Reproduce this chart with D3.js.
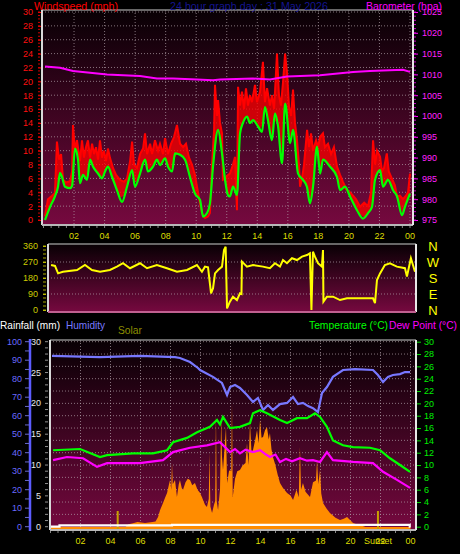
<!DOCTYPE html>
<html><head><meta charset="utf-8">
<script src="https://cdn.jsdelivr.net/npm/d3@7"></script>
<style>body{margin:0;background:#000;} svg{display:block;} text{font-family:"Liberation Sans",Arial,sans-serif;}</style>
</head><body><svg id="c" width="460" height="554"></svg>
<script>
// ---------------- DATA ----------------
const titleText = "24 hour graph day : 31 May 2026";
const hourLabels = ["02","04","06","08","10","12","14","16","18","20","22","00"];
const hourLabelValues = [2,4,6,8,10,12,14,16,18,20,22,24];
const compassLabels = ["N","W","S","E","N"];
const compassValues = [360,270,180,90,0];

const windAvgHours = [0.10,0.43,0.75,0.95,1.08,1.21,1.41,1.74,1.87,2.06,2.26,2.39,2.59,2.85,3.05,3.24,3.57,3.83,4.03,4.22,4.49,4.81,5.14,5.47,5.80,5.99,6.32,6.65,6.84,7.17,7.43,7.63,7.96,8.15,8.42,8.61,8.94,9.27,9.59,9.92,10.25,10.45,10.71,10.90,11.10,11.43,11.69,11.89,12.08,12.21,12.41,12.67,12.87,13.06,13.33,13.52,13.72,14.05,14.31,14.50,14.70,14.96,15.16,15.36,15.62,15.82,16.15,16.34,16.67,16.99,17.25,17.45,17.65,17.91,18.11,18.30,18.76,19.22,19.42,19.74,20.07,20.53,20.92,21.25,21.51,21.71,22.04,22.23,22.56,22.89,23.15,23.48,23.67,24.00];
const windAvgMph = [0.0,1.9,3.4,4.8,6.8,6.2,4.8,4.6,4.9,10.3,8.7,5.3,6.5,5.8,8.7,7.7,6.7,6.0,7.0,7.7,6.2,4.3,2.6,4.8,7.2,4.8,6.7,8.7,7.0,7.7,8.7,7.9,8.9,7.7,7.0,9.6,9.4,8.7,6.2,3.8,2.9,0.5,1.0,2.4,7.7,13.0,9.6,5.8,3.6,3.4,4.8,3.6,12.5,14.0,14.9,14.0,14.4,13.5,12.7,16.3,14.4,11.5,15.4,13.5,8.2,16.8,11.1,13.0,6.7,5.8,4.8,2.4,4.8,10.6,6.7,8.7,7.7,6.2,4.3,4.8,3.4,1.4,0.2,1.0,1.9,5.8,7.2,4.8,5.8,4.3,3.4,0.7,1.9,3.8];

const windGustHours = [0.10,0.29,0.56,0.75,0.88,1.02,1.15,1.28,1.47,1.74,1.87,1.93,2.06,2.19,2.39,2.52,2.65,2.78,2.91,3.05,3.18,3.31,3.44,3.57,3.70,3.83,3.96,4.09,4.22,4.35,4.55,4.75,5.01,5.27,5.47,5.67,5.80,5.93,6.12,6.32,6.52,6.65,6.78,6.98,7.11,7.30,7.50,7.63,7.83,7.96,8.15,8.35,8.55,8.74,8.94,9.14,9.33,9.53,9.72,9.92,10.05,10.25,10.38,10.58,10.77,10.90,11.03,11.17,11.23,11.36,11.43,11.56,11.69,11.75,11.89,12.08,12.21,12.41,12.54,12.67,12.74,12.87,13.00,13.13,13.26,13.39,13.52,13.65,13.85,13.98,14.18,14.37,14.50,14.64,14.83,14.96,15.10,15.29,15.42,15.55,15.69,15.82,15.95,16.08,16.21,16.34,16.47,16.60,16.73,16.80,16.93,17.06,17.26,17.39,17.52,17.65,17.85,17.98,18.11,18.30,18.43,18.63,18.83,19.02,19.22,19.42,19.61,19.87,20.07,20.27,20.47,20.73,21.00,21.25,21.45,21.58,21.71,21.84,22.04,22.17,22.30,22.48,22.61,22.81,23.01,23.15,23.34,23.54,23.74,23.87,24.00];
const windGustMph = [0.5,3.0,3.5,3.9,11.3,8.7,9.5,5.8,5.4,5.6,7.0,13.7,10.0,11.5,8.5,11.5,9.0,10.5,11.5,9.0,11.0,9.5,10.5,8.7,11.5,9.0,10.0,8.5,10.3,9.0,7.5,6.5,5.8,5.5,6.0,8.5,11.3,8.0,7.5,9.5,10.3,12.5,9.5,11.0,9.5,11.5,10.0,11.0,9.5,11.8,9.5,11.0,12.0,13.7,11.0,10.5,11.0,9.0,8.0,6.5,4.8,2.4,1.0,0.3,0.5,1.0,7.7,13.0,19.5,15.0,17.3,14.0,12.5,5.8,6.0,6.5,6.7,8.0,9.1,1.4,19.2,16.5,18.5,16.0,19.0,16.5,18.0,17.0,19.5,17.0,18.5,22.8,17.0,19.0,16.5,18.0,16.0,24.0,18.0,16.5,20.0,24.0,21.2,16.3,15.0,18.8,14.0,11.5,8.0,4.8,6.0,8.0,13.0,10.5,12.5,10.0,11.5,10.5,12.0,12.5,10.5,11.0,9.5,10.5,7.7,6.5,5.5,4.3,4.0,3.5,3.0,1.9,2.5,2.0,4.0,11.5,8.0,10.0,9.1,7.0,7.5,9.6,7.0,6.0,5.0,3.4,3.5,3.0,3.5,4.0,6.7];

const baroHours = [0.10,1.08,1.93,3.05,4.16,5.21,6.32,7.43,8.48,10.05,11.10,11.56,13.72,14.83,15.95,18.11,20.27,21.38,23.54,24.00];
const baroHpa = [1011.9,1011.6,1010.8,1010.4,1010.0,1009.8,1009.6,1009.0,1009.0,1008.8,1008.6,1008.8,1009.0,1008.8,1009.5,1009.8,1010.6,1010.8,1011.1,1010.6];

const dirHours = [0.07,0.33,0.53,0.85,1.78,2.30,2.76,3.29,3.94,4.40,4.80,5.26,5.92,6.38,7.03,7.69,8.35,9.01,9.66,9.99,10.19,10.39,10.59,10.72,10.85,11.05,11.31,11.44,11.55,11.64,11.83,12.03,12.29,12.49,12.59,12.62,12.95,13.35,14.00,14.46,14.79,15.12,15.32,15.58,15.91,16.24,16.57,16.90,17.09,17.19,17.29,17.42,17.62,17.88,17.95,17.98,18.21,18.61,19.07,19.53,20.18,21.24,21.37,21.50,21.70,22.02,22.35,22.81,23.34,23.47,23.73,24.00];
const dirDeg = [253,248,206,215,225,253,225,215,225,244,263,235,263,235,253,235,215,225,253,215,244,240,94,122,206,225,244,337,356,9,47,75,56,94,90,272,244,253,244,235,263,244,281,263,291,281,300,309,319,0,328,300,263,244,337,47,75,75,56,66,66,66,38,169,206,253,263,244,235,188,291,215];

const humHours = [0.10,3.30,5.97,8.30,8.63,9.30,9.83,9.97,10.83,11.43,11.77,11.97,12.30,12.63,13.10,13.50,13.83,14.17,14.50,14.83,15.30,15.77,16.17,16.50,16.83,17.17,17.50,17.83,18.10,18.43,18.83,19.50,20.30,21.50,21.83,22.17,22.50,22.83,23.30,23.63,23.97];
const humPct = [92.3,91.7,92.3,91.7,91.2,89.0,85.8,84.7,81.0,77.7,71.2,75.5,76.6,75.0,71.2,67.4,69.6,63.1,65.8,63.1,66.3,66.9,70.1,66.3,66.9,65.2,64.1,62.0,72.3,75.5,81.0,84.7,85.2,84.7,82.0,78.2,81.0,82.0,82.5,83.6,83.6];

const tempHours = [0.17,1.97,3.30,3.77,5.50,6.83,7.77,8.17,9.10,9.77,10.63,11.10,11.30,11.50,11.97,12.63,13.30,13.50,13.97,14.43,15.30,15.77,16.43,17.10,17.63,17.97,18.43,18.83,19.50,20.17,21.30,21.97,22.63,23.30,23.97];
const tempC = [12.4,12.6,11.3,11.6,11.9,11.9,12.4,13.7,14.4,15.3,16.2,17.3,16.6,17.8,16.0,16.2,16.8,18.4,18.9,18.4,17.3,16.8,17.6,17.6,18.4,17.8,16.2,14.0,13.2,12.9,12.8,12.4,11.1,10.0,8.9];

const dewHours = [0.17,1.10,2.17,3.10,3.77,5.97,7.50,8.17,9.30,10.43,11.30,11.97,12.30,12.63,13.00,13.50,13.97,14.30,14.63,15.00,15.30,15.70,16.10,16.63,17.10,17.50,17.97,18.43,18.83,20.17,21.50,22.17,23.10,23.97];
const dewC = [10.8,11.3,11.1,9.7,10.3,10.3,10.8,12.1,12.8,13.2,13.7,12.1,12.6,11.9,12.5,12.1,12.4,11.8,11.3,11.7,10.5,11.0,10.6,11.1,10.7,10.8,10.5,12.1,10.8,10.5,10.3,8.9,7.6,6.3];

const solarHours = [0,5.0,5.2,5.5,5.8,6.3,6.8,7.0,7.17,7.3,7.5,7.65,7.77,7.9,7.97,8.05,8.1,8.15,8.3,8.43,8.55,8.63,8.75,8.83,9.0,9.15,9.3,9.45,9.63,9.8,9.97,10.1,10.17,10.3,10.43,10.55,10.6,10.66,10.77,10.9,10.98,11.03,11.08,11.17,11.3,11.38,11.43,11.5,11.6,11.7,11.77,11.9,11.97,12.05,12.1,12.15,12.3,12.45,12.63,12.8,13.0,13.1,13.2,13.3,13.4,13.5,13.65,13.77,13.87,13.97,14.07,14.17,14.3,14.43,14.55,14.63,14.73,14.83,15.0,15.15,15.3,15.5,15.77,16.0,16.17,16.4,16.55,16.63,16.7,16.83,17.0,17.3,17.5,17.7,17.77,17.85,17.97,18.05,18.17,18.4,18.63,19.0,19.3,19.55,19.77,20.0,20.17,20.4,20.63,21.0,24.0];
const solarWm2 = [0,0,15,20,27,22,27,30,54,90,129,160,183,230,253,200,344,230,253,161,230,253,210,199,240,260,253,225,237,200,183,160,145,120,108,150,398,110,75,120,140,613,140,91,200,591,380,307,420,538,237,300,307,300,667,161,260,300,307,330,344,450,330,559,400,414,470,522,450,575,480,484,520,538,470,505,420,376,330,280,237,210,183,170,145,200,160,430,200,237,190,161,240,250,360,230,307,180,129,100,75,50,38,45,54,35,22,15,11,0,0];

const rainHours = [0,0.6,8.1,23.95,24];
const rainMm = [0,0.2,0.3,0,0];

const sunriseHour = 4.48, sunsetHour = 21.83;

// ---------------- DRAW ----------------
const svg = d3.select("#c");
svg.append("rect").attr("width",460).attr("height",554).attr("fill","#000");
const defs = svg.append("defs");
const g1 = defs.append("linearGradient").attr("id","bg").attr("x1",0).attr("y1",0).attr("x2",0).attr("y2",1);
g1.append("stop").attr("offset","0%").attr("stop-color","#080004");
g1.append("stop").attr("offset","100%").attr("stop-color","#76093f");

function panel(id,x0,y0,x1,y1){
  svg.append("rect").attr("x",x0).attr("y",y0).attr("width",x1-x0).attr("height",y1-y0).attr("fill","url(#bg)");
  defs.append("clipPath").attr("id",id).append("rect").attr("x",x0).attr("y",y0).attr("width",x1-x0).attr("height",y1-y0);
}
function border(x0,y0,x1,y1){
  svg.append("line").attr("x1",x0).attr("x2",x1).attr("y1",y0).attr("y2",y0).attr("stroke","#8a8a8a").attr("stroke-width",1.5);
  svg.append("line").attr("x1",x0).attr("x2",x0).attr("y1",y0).attr("y2",y1).attr("stroke","#d8d8d8").attr("stroke-width",2);
  svg.append("line").attr("x1",x0).attr("x2",x1).attr("y1",y1).attr("y2",y1).attr("stroke","#b8b8b8").attr("stroke-width",2);
  svg.append("line").attr("x1",x1).attr("x2",x1).attr("y1",y0).attr("y2",y1).attr("stroke","#e8e8e8").attr("stroke-width",2);
}
const gridStyle = s => s.attr("stroke","#b4a4ac").attr("stroke-width",1).attr("stroke-dasharray","1,2").attr("opacity",0.7);

// ---- Top panel ----
const T = {x0:42,y0:10,x1:413,y1:225};
panel("clipT",T.x0,T.y0,T.x1,T.y1);
const xT = d3.scaleLinear().domain([0,24]).range([43.5,410]);
const yWind = d3.scaleLinear().domain([0,30]).range([220,12]);
const yBaro = d3.scaleLinear().domain([975,1025]).range([220,12]);
const gT = svg.append("g");
d3.range(2,31,2).forEach(v=>gridStyle(gT.append("line").attr("x1",T.x0).attr("x2",T.x1).attr("y1",yWind(v)).attr("y2",yWind(v))));
d3.range(2,25,2).forEach(h=>gridStyle(gT.append("line").attr("x1",xT(h)).attr("x2",xT(h)).attr("y1",T.y0).attr("y2",T.y1)));
const dT = svg.append("g").attr("clip-path","url(#clipT)");
const avgInterp = d3.scaleLinear().domain(windAvgHours).range(windAvgMph).clamp(true);
const gust = windGustHours.map((h,i)=>({h,v:windGustMph[i]}));
dT.append("path").datum(gust).attr("fill","#ff0000").attr("opacity",0.75)
  .attr("d",d3.area().x(d=>xT(d.h)).y0(d=>yWind(Math.min(avgInterp(d.h),d.v))).y1(d=>yWind(d.v)));
dT.append("path").datum(gust).attr("fill","none").attr("stroke","#ff0000").attr("stroke-width",2)
  .attr("d",d3.line().x(d=>xT(d.h)).y(d=>yWind(d.v)));
dT.append("path").datum(windAvgHours.map((h,i)=>({h,v:windAvgMph[i]}))).attr("fill","none").attr("stroke","#00ff00").attr("stroke-width",2.2)
  .attr("d",d3.line().x(d=>xT(d.h)).y(d=>yWind(d.v)).curve(d3.curveMonotoneX));
dT.append("path").datum(baroHours.map((h,i)=>({h,v:baroHpa[i]}))).attr("fill","none").attr("stroke","#ff00ff").attr("stroke-width",2)
  .attr("d",d3.line().x(d=>xT(d.h)).y(d=>yBaro(d.v)));
border(T.x0,T.y0,T.x1,T.y1);
// axes
const axL = svg.append("g").attr("transform",`translate(${T.x0-1},0)`)
  .call(d3.axisLeft(yWind).tickValues(d3.range(0,31,2)).tickSize(3).tickPadding(5).tickFormat(d3.format("d")));
axL.select(".domain").remove();
axL.selectAll("line").attr("stroke","#ff0000");
axL.selectAll("text").attr("fill","#ff1010").style("font-size","9px");
d3.range(0,30.1,0.5).forEach(v=>svg.append("line").attr("x1",T.x0-4).attr("x2",T.x0-2).attr("y1",yWind(v)).attr("y2",yWind(v)).attr("stroke","#d00000"));
const axR = svg.append("g").attr("transform",`translate(${T.x1+1},0)`)
  .call(d3.axisRight(yBaro).tickValues(d3.range(975,1026,5)).tickSize(4).tickPadding(4).tickFormat(d3.format("d")));
axR.select(".domain").remove();
axR.selectAll("line").attr("stroke","#ff00ff");
axR.selectAll("text").attr("fill","#ff22ff").style("font-size","9px");
d3.range(975,1025.1,1).forEach(v=>svg.append("line").attr("x1",T.x1+1).attr("x2",T.x1+3).attr("y1",yBaro(v)).attr("y2",yBaro(v)).attr("stroke","#cc00cc"));
d3.range(0,24.01,0.5).forEach(h=>svg.append("line").attr("x1",xT(h)).attr("x2",xT(h)).attr("y1",T.y1+1).attr("y2",T.y1+3).attr("stroke","#888"));
svg.append("g").selectAll("text").data(hourLabelValues).join("text")
  .attr("x",d=>xT(d)).attr("y",239).attr("text-anchor","middle").attr("fill","#dede00").style("font-size","9px")
  .text((d,i)=>hourLabels[i]);
// titles
svg.append("text").attr("x",34).attr("y",9.5).attr("fill","#ff0000").style("font-size","11.5px").attr("textLength",84).attr("lengthAdjust","spacingAndGlyphs").text("Windspeed (mph)");
svg.append("text").attr("x",170).attr("y",9.5).attr("fill","#141490").style("font-size","11.5px").attr("textLength",158).attr("lengthAdjust","spacingAndGlyphs").text(titleText);
svg.append("text").attr("x",366).attr("y",9.5).attr("fill","#ff00ff").style("font-size","11px").attr("textLength",76).attr("lengthAdjust","spacingAndGlyphs").text("Barometer (hpa)");

// ---- Middle panel ----
const M = {x0:48,y0:244,x1:416,y1:312};
panel("clipM",M.x0,M.y0,M.x1,M.y1);
const xM = d3.scaleLinear().domain([0,24]).range([50,415]);
const yDir = d3.scaleLinear().domain([0,360]).range([310,246]);
[90,180,270].forEach(v=>gridStyle(svg.append("line").attr("x1",M.x0).attr("x2",M.x1).attr("y1",yDir(v)).attr("y2",yDir(v))));
svg.append("g").attr("clip-path","url(#clipM)").append("path")
  .datum(dirHours.map((h,i)=>({h,v:dirDeg[i]}))).attr("fill","none").attr("stroke","#ffff00").attr("stroke-width",2)
  .attr("d",d3.line().x(d=>xM(d.h)).y(d=>yDir(d.v)));
border(M.x0,M.y0,M.x1,M.y1);
svg.append("line").attr("x1",M.x0).attr("x2",M.x1).attr("y1",M.y1).attr("y2",M.y1).attr("stroke","#c06090").attr("stroke-width",2);
const axM = svg.append("g").attr("transform",`translate(${M.x0-2},0)`)
  .call(d3.axisLeft(yDir).tickValues(compassValues).tickSize(3).tickPadding(5).tickFormat(d3.format("d")));
axM.select(".domain").remove();
axM.selectAll("line").attr("stroke","#cccc00");
axM.selectAll("text").attr("fill","#cccc00").style("font-size","9px");
d3.range(0,361,22.5).forEach(v=>svg.append("line").attr("x1",M.x0-5).attr("x2",M.x0-2).attr("y1",yDir(v)).attr("y2",yDir(v)).attr("stroke","#aaaa00"));
svg.append("g").selectAll("text").data(compassValues).join("text")
  .attr("x",433).attr("y",d=>yDir(d)+5).attr("text-anchor","middle").attr("fill","#ffff00").style("font-size","13px")
  .text((d,i)=>compassLabels[i]);

// ---- Bottom panel ----
const B = {x0:50,y0:340,x1:416,y1:530};
panel("clipB",B.x0,B.y0,B.x1,B.y1);
const xB = d3.scaleLinear().domain([0,24]).range([50.5,410.5]);
const yTemp = d3.scaleLinear().domain([0,30]).range([526.7,341.7]);
const yRain = d3.scaleLinear().domain([0,30]).range([526.7,341.7]);
const yHum = d3.scaleLinear().domain([0,100]).range([526.7,341.7]);
const ySolar = d3.scaleLinear().domain([0,1000]).range([527,341]);
d3.range(2,31,2).forEach(v=>gridStyle(svg.append("line").attr("x1",B.x0).attr("x2",B.x1).attr("y1",yTemp(v)).attr("y2",yTemp(v))));
d3.range(2,25,2).forEach(h=>gridStyle(svg.append("line").attr("x1",xB(h)).attr("x2",xB(h)).attr("y1",B.y0).attr("y2",B.y1)));
const dB = svg.append("g").attr("clip-path","url(#clipB)");
dB.append("path").datum(solarHours.map((h,i)=>({h,v:solarWm2[i]}))).attr("fill","#ff8c00")
  .attr("d",d3.area().x(d=>xB(d.h)).y0(B.y1).y1(d=>ySolar(d.v)));
[sunriseHour,sunsetHour].forEach(h=>dB.append("line").attr("x1",xB(h)).attr("x2",xB(h)).attr("y1",511).attr("y2",B.y1).attr("stroke","#c8a000").attr("stroke-width",2));
const ln = (hs,vs,ys,col,w,curve)=>dB.append("path").datum(hs.map((h,i)=>({h,v:vs[i]}))).attr("fill","none").attr("stroke",col).attr("stroke-width",w)
  .attr("d",d3.line().x(d=>xB(d.h)).y(d=>ys(d.v)).curve(curve||d3.curveLinear));
ln(humHours,humPct,yHum,"#7878ff",2.2);
ln(tempHours,tempC,yTemp,"#00ff00",2.2);
ln(dewHours,dewC,yTemp,"#ff00ff",2.2);
ln(rainHours,rainMm,yRain,"#ffffff",2.2,d3.curveStepAfter);
border(B.x0,B.y0,B.x1,B.y1);
// left axes
svg.append("line").attr("x1",30).attr("x2",30).attr("y1",339).attr("y2",531).attr("stroke","#5c5cff").attr("stroke-width",2.5);
d3.range(0,101,5).forEach(v=>svg.append("line").attr("x1",25).attr("x2",29).attr("y1",yHum(v)).attr("y2",yHum(v)).attr("stroke","#6a6ad0"));
svg.append("g").selectAll("text").data(d3.range(0,101,10)).join("text")
  .attr("x",22).attr("y",d=>yHum(d)+3).attr("text-anchor","end").attr("fill","#6a6aff").style("font-size","9px").text(d=>d);
svg.append("g").selectAll("text").data(d3.range(0,31,5)).join("text")
  .attr("x",41).attr("y",d=>yRain(d)+3).attr("text-anchor","end").attr("fill","#e8e8e8").style("font-size","9px").text(d=>d);
d3.range(0,30.1,1).forEach(v=>svg.append("line").attr("x1",45).attr("x2",48).attr("y1",yRain(v)).attr("y2",yRain(v)).attr("stroke","#909090"));
// right axis
const axT = svg.append("g").attr("transform",`translate(${B.x1+1},0)`)
  .call(d3.axisRight(yTemp).tickValues(d3.range(0,31,2)).tickSize(4).tickPadding(3).tickFormat(d3.format("d")));
axT.select(".domain").remove();
axT.selectAll("line").attr("stroke","#00dd00");
axT.selectAll("text").attr("fill","#00ee00").style("font-size","9px");
d3.range(0,24.01,0.5).forEach(h=>svg.append("line").attr("x1",xB(h)).attr("x2",xB(h)).attr("y1",B.y1+1).attr("y2",B.y1+3).attr("stroke","#888"));
svg.append("g").selectAll("text").data(hourLabelValues).join("text")
  .attr("x",d=>xB(d)).attr("y",544).attr("text-anchor","middle").attr("fill","#dede00").style("font-size","9px")
  .text((d,i)=>hourLabels[i]);
svg.append("text").attr("x",xB(sunsetHour)).attr("y",544).attr("text-anchor","middle").attr("fill","#dede00").style("font-size","9px").text("Sunset");
// headers
svg.append("text").attr("x",0).attr("y",329).attr("fill","#ffffff").style("font-size","10.5px").attr("textLength",60).attr("lengthAdjust","spacingAndGlyphs").text("Rainfall (mm)");
svg.append("text").attr("x",66).attr("y",329).attr("fill","#7a7aff").style("font-size","10.5px").attr("textLength",39).attr("lengthAdjust","spacingAndGlyphs").text("Humidity");
svg.append("text").attr("x",118).attr("y",334).attr("fill","#8e8e00").style("font-size","10.5px").attr("textLength",24).attr("lengthAdjust","spacingAndGlyphs").text("Solar");
svg.append("text").attr("x",309).attr("y",329).attr("fill","#00ff00").style("font-size","10px").attr("textLength",79).attr("lengthAdjust","spacingAndGlyphs").text("Temperature (°C)");
svg.append("text").attr("x",389).attr("y",329).attr("fill","#ff00ff").style("font-size","10px").attr("textLength",68).attr("lengthAdjust","spacingAndGlyphs").text("Dew Point (°C)");
</script></body></html>
